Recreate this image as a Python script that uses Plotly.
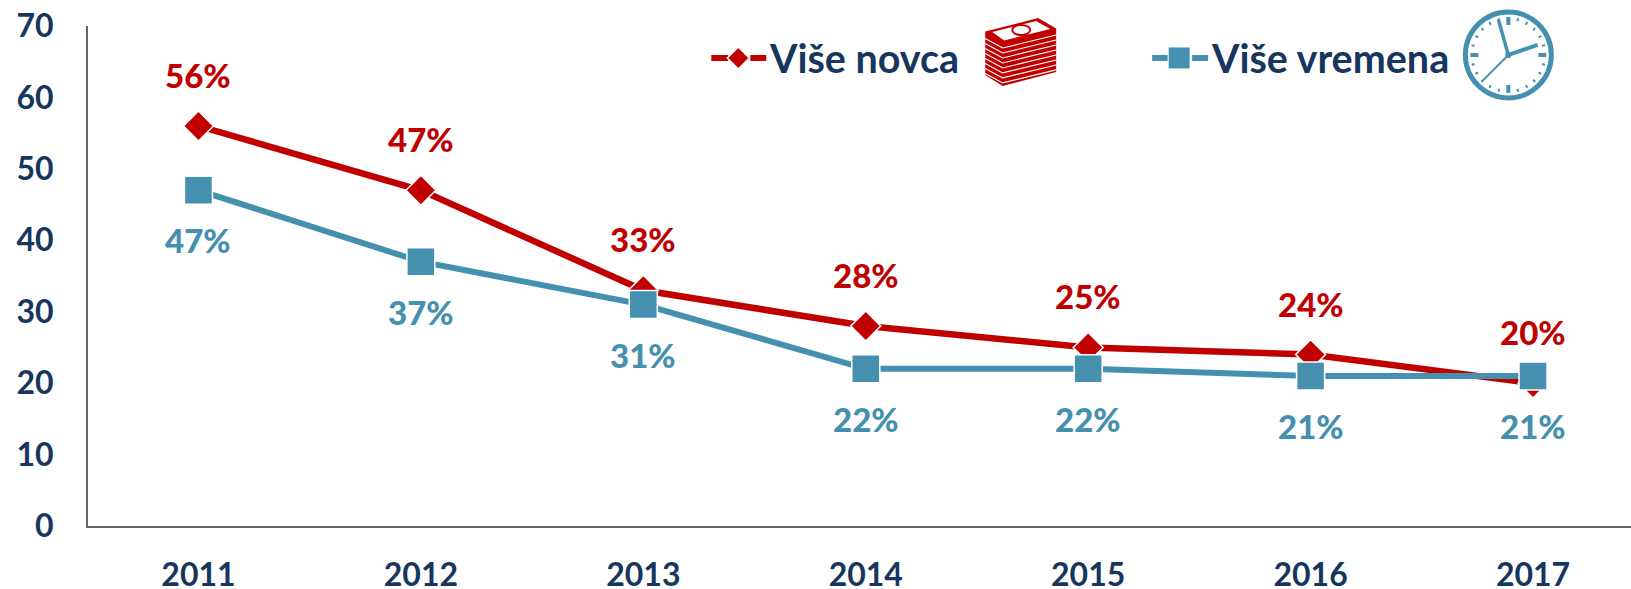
import math
import plotly.graph_objects as go

years = ["2011", "2012", "2013", "2014", "2015", "2016", "2017"]
vise_novca = [56, 47, 33, 28, 25, 24, 20]
vise_vremena = [47, 37, 31, 22, 22, 21, 21]
y_ticks = [0, 10, 20, 30, 40, 50, 60, 70]

RED = "#C00000"
BLUE = "#4590AF"
NAVY = "#17365D"
FONT = "Lato"
W, H = 1631, 589
L, T, B = 87.5, 26, 526.5

def px(x):
    return (x - L) / (W - L)

def py(y):
    return (B - y) / (B - T)

shapes = []

def line(x0, y0, x1, y1, color, width):
    shapes.append(dict(type="line", xref="paper", yref="paper", x0=px(x0), y0=py(y0), x1=px(x1), y1=py(y1),
                       line=dict(color=color, width=width)))

def poly(points, fill, lc=None, lw=0):
    d = "M " + " L ".join(f"{px(a):.5f},{py(b):.5f}" for a, b in points) + " Z"
    shapes.append(dict(type="path", xref="paper", yref="paper", path=d, fillcolor=fill,
                       line=dict(color=lc or fill, width=lw)))

# legend swatches
line(711, 58, 728, 58, RED, 6)
line(750, 58, 766, 58, RED, 6)
poly([(727, 58), (738, 47), (749, 58), (738, 69)], RED, "white", 1.5)
line(1152, 58, 1168, 58, BLUE, 6)
line(1192, 58, 1208, 58, BLUE, 6)
poly([(1168, 47), (1190, 47), (1190, 69), (1168, 69)], BLUE, "white", 1)

# banknote stack icon
poly([(985, 31.5), (1038, 18), (1056, 28.5), (1056, 72), (1002.5, 86), (985, 75)], RED)
poly([(992, 32), (1036, 21), (1050, 29), (1004, 40.5)], "white")
for i in range(8):
    dy = 5.0 * i
    shapes.append(dict(type="path", xref="paper", yref="paper",
                       path=f"M {px(985):.5f},{py(38.5 + dy):.5f} L {px(1002.5):.5f},{py(48 + dy):.5f} L {px(1056):.5f},{py(35 + dy):.5f}",
                       line=dict(color="white", width=1.2)))
shapes.append(dict(type="circle", xref="paper", yref="paper", x0=px(1012), x1=px(1030), y0=py(35), y1=py(25),
                   line=dict(color=RED, width=2), fillcolor="white"))

# clock icon
cx, cy, r = 1508.3, 55, 43
shapes.append(dict(type="circle", xref="paper", yref="paper", x0=px(cx - r), x1=px(cx + r), y0=py(cy + r), y1=py(cy - r),
                   line=dict(color=BLUE, width=5), fillcolor="white"))
for i in range(24):
    a = math.radians(i * 15)
    major = i % 6 == 0
    r0 = 30 if major else 35
    line(cx + r0 * math.sin(a), cy - r0 * math.cos(a), cx + 38 * math.sin(a), cy - 38 * math.cos(a),
         BLUE, 4 if major else 2)
line(cx, cy, 1498.3, 19.5, BLUE, 3.5)
line(cx, cy, 1537.5, 45, BLUE, 4)
line(cx, cy, 1481.7, 81.7, BLUE, 2)
shapes.append(dict(type="circle", xref="paper", yref="paper", x0=px(cx - 3), x1=px(cx + 3), y0=py(cy + 3), y1=py(cy - 3),
                   line=dict(width=0), fillcolor=BLUE))

fig = go.Figure()
fig.add_trace(go.Scatter(x=years, y=vise_novca, mode="lines+markers", name="Više novca", cliponaxis=False,
                         line=dict(color=RED, width=6.5),
                         marker=dict(symbol="diamond", size=23, color=RED, line=dict(color="white", width=1.5))))
fig.add_trace(go.Scatter(x=years, y=vise_vremena, mode="lines+markers", name="Više vremena", cliponaxis=False,
                         line=dict(color=BLUE, width=6),
                         marker=dict(symbol="square", size=28, color=BLUE, line=dict(color="white", width=1.5))))

annotations = []
for i, (a, b) in enumerate(zip(vise_novca, vise_vremena)):
    annotations.append(dict(xref="x", yref="y", x=i, y=a, text=f"{a}%", showarrow=False, yshift=51,
                            font=dict(family=FONT, size=33, color=RED, weight=900)))
    annotations.append(dict(xref="x", yref="y", x=i, y=b, text=f"{b}%", showarrow=False, yshift=-50,
                            font=dict(family=FONT, size=33, color=BLUE, weight=900)))
annotations.append(dict(xref="paper", yref="paper", x=px(767), y=py(58), xanchor="left", yanchor="middle",
                        text="<b>Više novca</b>", showarrow=False, font=dict(family=FONT, size=39.5, color=NAVY)))
annotations.append(dict(xref="paper", yref="paper", x=px(1209), y=py(58), xanchor="left", yanchor="middle",
                        text="<b>Više vremena</b>", showarrow=False, font=dict(family=FONT, size=39.5, color=NAVY)))

fig.update_layout(
    width=W, height=H, margin=dict(l=L, r=0, t=T, b=H - B, autoexpand=False),
    paper_bgcolor="white", plot_bgcolor="white", showlegend=False,
    shapes=shapes, annotations=annotations,
    font=dict(family=FONT, color=NAVY, size=32),
    xaxis=dict(type="category", range=[-(198 - L) / 222.5, (W - 198) / 222.5], showgrid=False, zeroline=False,
               showline=True, automargin=False, linecolor="#666666", linewidth=2, ticks="", ticklabelstandoff=20,
               tickfont=dict(family=FONT, size=32, color=NAVY, weight="bold")),
    yaxis=dict(range=[0, 70], tickvals=y_ticks, showgrid=False, zeroline=False, showline=True, automargin=False,
               linecolor="#666666", linewidth=2, ticks="", ticklabelstandoff=26,
               tickfont=dict(family=FONT, size=32, color=NAVY, weight="bold")),
)
fig.write_html("out.html", post_script="document.body.style.margin='0';", config=dict(displayModeBar=False))
